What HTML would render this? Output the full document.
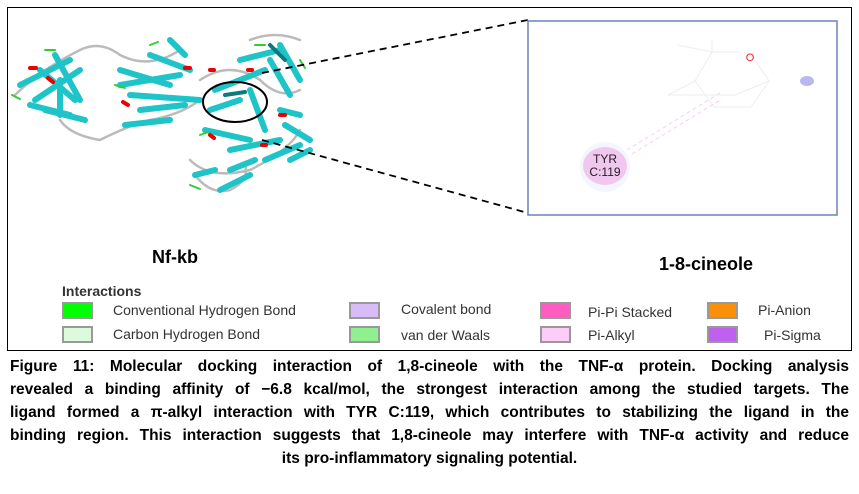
<!DOCTYPE html>
<html><head><meta charset="utf-8"><style>
body{margin:0;width:859px;height:494px;background:#fff;position:relative;overflow:hidden;font-family:"Liberation Sans",sans-serif}
.box{position:absolute;left:7px;top:7px;width:843px;height:342px;border:1.5px solid #000}
.cap{position:absolute;left:10px;width:839px;top:355px;font-weight:bold;font-size:15.5px;line-height:23px}
.cap div{text-align:justify;text-align-last:justify;white-space:nowrap;height:23px}
.leg{position:absolute;font-size:14px;color:#333}
.sw{position:absolute;width:31px;height:17px;border:2px solid #999;box-sizing:border-box}
</style></head><body>
<div class="box"></div>
<svg style="position:absolute;left:0;top:0" width="859" height="350">
 <g fill="none" stroke-linecap="round">
  <g stroke="#bbb" stroke-width="2.5">
   <path d="M15 95 Q40 70 80 50 Q100 40 120 55 Q150 70 180 50"/>
   <path d="M60 120 Q70 135 100 140 Q130 125 150 120 Q180 115 200 100"/>
   <path d="M200 80 Q230 60 260 80 Q280 100 300 90"/>
   <path d="M190 160 Q210 180 250 170 Q290 150 300 130"/>
   <path d="M250 40 Q275 30 300 40"/>
   <path d="M195 175 Q210 195 230 190 Q250 180 245 165"/>
  </g>
  <g stroke="#1ec4c8" stroke-width="6">
   <path d="M20 85 L70 60"/><path d="M35 100 L80 70"/><path d="M45 110 L85 120"/>
   <path d="M40 70 L75 100"/><path d="M55 55 L80 100"/><path d="M30 105 L70 115"/>
   <path d="M120 70 L170 85"/><path d="M120 85 L180 75"/><path d="M130 95 L200 100"/>
   <path d="M140 110 L185 105"/><path d="M150 55 L190 70"/><path d="M125 125 L170 120"/>
   <path d="M210 110 L240 100"/><path d="M215 90 L265 70"/><path d="M240 60 L280 50"/>
   <path d="M250 90 L265 130"/><path d="M270 60 L290 95"/><path d="M280 45 L300 80"/>
   <path d="M205 130 L250 140"/><path d="M230 150 L280 140"/><path d="M265 160 L300 145"/>
   <path d="M195 175 L215 170"/><path d="M220 190 L250 175"/><path d="M230 170 L255 160"/>
   <path d="M60 80 L60 115"/><path d="M170 40 L185 55"/><path d="M280 110 L300 115"/>
   <path d="M285 125 L310 140"/><path d="M290 160 L310 150"/>
  </g>
  <g stroke="#0d7a7e" stroke-width="4"><path d="M225 95 L245 92"/><path d="M270 45 L285 60"/></g>
  <g stroke="#e00" stroke-width="4">
   <path d="M30 68 l6 0"/><path d="M48 78 l5 4"/><path d="M123 102 l5 3"/><path d="M185 68 l5 0"/>
   <path d="M210 70 l4 0"/><path d="M248 70 l4 0"/><path d="M210 135 l4 3"/><path d="M262 145 l4 0"/><path d="M280 115 l5 0"/>
  </g>
  <g stroke="#3c3" stroke-width="2">
   <path d="M12 95 l8 4"/><path d="M45 50 l10 0"/><path d="M115 85 l10 3"/><path d="M190 185 l10 4"/>
   <path d="M255 45 l10 0"/><path d="M300 60 l5 8"/><path d="M200 135 l8 -3"/><path d="M150 45 l8 -3"/>
  </g>
 </g>
 <ellipse cx="235" cy="102" rx="32" ry="20" fill="none" stroke="#000" stroke-width="2"/>
 <path d="M262 73 L528 20" stroke="#000" stroke-width="1.8" stroke-dasharray="7,5"/>
 <path d="M262 140 L528 213" stroke="#000" stroke-width="1.8" stroke-dasharray="7,5"/>
 <rect x="528" y="21" width="309" height="194" fill="#fff" stroke="#6a82b8" stroke-width="1.5"/>
 <g stroke="#eee" stroke-width="1" fill="none">
  <path d="M678 45 L712 52 L712 40"/><path d="M712 52 L740 52"/><path d="M755 60 L769 81 L751 107 L714 107 L695 81 L712 52"/><path d="M695 81 L668 95 L735 95 L769 81"/>
 </g>
 <text x="750" y="61" font-size="11" fill="#e22" text-anchor="middle">O</text>
 <ellipse cx="807" cy="81" rx="7" ry="5" fill="#b8b8f0"/>
 <path d="M627 150 L720 93 M632 154 L722 99" stroke="#f6d0f0" stroke-width="1" stroke-dasharray="4,3"/>
 <circle cx="605" cy="167" r="25" fill="#f3f6fd"/>
 <ellipse cx="605" cy="166" rx="22" ry="19" fill="#f2c7ef"/>
 <text x="605" y="163" font-size="12" text-anchor="middle" fill="#222">TYR</text>
 <text x="605" y="176" font-size="12" text-anchor="middle" fill="#222">C:119</text>
 <text x="175" y="263" font-size="18" font-weight="bold" text-anchor="middle">Nf-kb</text>
 <text x="706" y="270" font-size="18" font-weight="bold" text-anchor="middle">1-8-cineole</text>
 <text x="62" y="296" font-size="14" font-weight="bold" fill="#333">Interactions</text>
</svg>
<div class="sw" style="left:62px;top:302px;background:#0f0"></div>
<div class="sw" style="left:62px;top:326px;background:#ddfadd"></div>
<div class="sw" style="left:349px;top:302px;background:#d8bcf8"></div>
<div class="sw" style="left:349px;top:326px;background:#90f090"></div>
<div class="sw" style="left:540px;top:302px;background:#ff5cc0"></div>
<div class="sw" style="left:540px;top:326px;background:#fdcdf8"></div>
<div class="sw" style="left:707px;top:302px;background:#fa8f0a"></div>
<div class="sw" style="left:707px;top:326px;background:#c060f0"></div>
<div class="leg" style="left:113px;top:302px">Conventional Hydrogen Bond</div>
<div class="leg" style="left:113px;top:326px">Carbon Hydrogen Bond</div>
<div class="leg" style="left:401px;top:301px">Covalent bond</div>
<div class="leg" style="left:401px;top:327px">van der Waals</div>
<div class="leg" style="left:588px;top:304px">Pi-Pi Stacked</div>
<div class="leg" style="left:588px;top:327px">Pi-Alkyl</div>
<div class="leg" style="left:758px;top:302px">Pi-Anion</div>
<div class="leg" style="left:764px;top:327px">Pi-Sigma</div>
<div class="cap">
<div>Figure 11: Molecular docking interaction of 1,8-cineole with the TNF-α protein. Docking analysis</div>
<div>revealed a binding affinity of −6.8 kcal/mol, the strongest interaction among the studied targets. The</div>
<div>ligand formed a π-alkyl interaction with TYR C:119, which contributes to stabilizing the ligand in the</div>
<div>binding region. This interaction suggests that 1,8-cineole may interfere with TNF-α activity and reduce</div>
<div style="text-align:center;text-align-last:center">its pro-inflammatory signaling potential.</div>
</div>
</body></html>
